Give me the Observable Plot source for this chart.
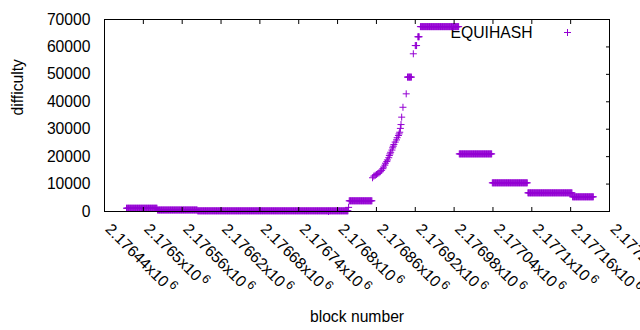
<!DOCTYPE html>
<html><head><meta charset="utf-8">
<script src="https://cdn.jsdelivr.net/npm/d3@7"></script>
<script src="https://cdn.jsdelivr.net/npm/@observablehq/plot@0.6"></script>
<style>
html,body{margin:0;padding:0;background:#fff;}
svg{display:block;}
</style></head><body><div id="chart"></div>
<script>
// Runs of consecutive blocks sharing the same difficulty
const runStart = [2176474, 2176522, 2176584, 2176818, 2176908, 2176920, 2176924, 2176928, 2176988, 2177039, 2177094, 2177163];
const runEnd   = [2176521, 2176583, 2176816, 2176853, 2176914, 2176922, 2176926, 2176987, 2177038, 2177093, 2177162, 2177195];
const runDiff  = [1200, 550, 250, 3900, 49000, 60500, 63700, 67400, 21000, 10450, 6800, 5350];

// Individual blocks (ramp and outliers)
const singleBlock = [2176786, 2176817,
  2176854, 2176856, 2176858, 2176860, 2176862, 2176864, 2176866, 2176868, 2176870, 2176871,
  2176873, 2176874, 2176876, 2176877, 2176879, 2176880, 2176881, 2176882, 2176884, 2176885,
  2176886, 2176887, 2176889, 2176891, 2176892, 2176894, 2176895, 2176896, 2176897, 2176898,
  2176899, 2176901, 2176906, 2176917];
const singleDiff = [0, 1500,
  12300, 12900, 13200, 13500, 13800, 14100, 14500, 15000, 15600, 16200,
  16900, 17600, 18200, 18800, 19600, 20400, 21000, 21600, 22400, 23200,
  23800, 24400, 25300, 26100, 26900, 27700, 28300, 28900, 30300, 31700,
  34400, 38000, 42900, 57500];

const xTickValues = [2176440, 2176500, 2176560, 2176620, 2176680, 2176740, 2176800, 2176860, 2176920, 2176980, 2177040, 2177100, 2177160, 2177220];
const xTickMantissa = ["2.17644", "2.1765", "2.17656", "2.17662", "2.17668", "2.17674", "2.1768", "2.17686", "2.17692", "2.17698", "2.17704", "2.1771", "2.17716", "2.17722"];
const xTickExponent = "6";
const yTickValues = [0, 10000, 20000, 30000, 40000, 50000, 60000, 70000];
const seriesName = "EQUIHASH";
const xLabel = "block number";
const yLabel = "difficulty";

const points = [];
runStart.forEach((s, i) => { for (let b = s; b <= runEnd[i]; b++) points.push({block: b, difficulty: runDiff[i]}); });
singleBlock.forEach((b, i) => points.push({block: b, difficulty: singleDiff[i]}));

const color = "#9400d3";
const plus = {draw(ctx, size) { const r = Math.sqrt(size / Math.PI); ctx.moveTo(-r, 0); ctx.lineTo(r, 0); ctx.moveTo(0, -r); ctx.lineTo(0, r); }};
const FS = 15.7;

const chart = Plot.plot({
  width: 640, height: 330,
  marginLeft: 104, marginRight: 31, marginTop: 19, marginBottom: 119,
  style: {fontFamily: "'Liberation Sans', Arial, sans-serif", fontSize: FS + "px", color: "black", background: "white"},
  x: {domain: [2176440, 2177220], label: null},
  y: {domain: [0, 70000], label: null},
  marks: [
    Plot.text([seriesName], {frameAnchor: "top-right", textAnchor: "end", lineAnchor: "middle", dx: -77, dy: 13, fill: "black"}),
    Plot.dot([seriesName], {frameAnchor: "top-right", dx: -42, dy: 13, symbol: plus, r: 3.5, stroke: color, fill: "none", strokeWidth: 1}),
    Plot.dot(points, {x: "block", y: "difficulty", symbol: plus, r: 3.5, stroke: color, fill: "none", strokeWidth: 1}),
    Plot.axisY({anchor: "left", ticks: yTickValues, tickSize: 0, tickPadding: 14, tickFormat: d => String(d), label: null}),
    Plot.axisY({anchor: "right", ticks: yTickValues, tickSize: 4, dx: -4, tickFormat: () => "", label: null}),
    Plot.axisX({anchor: "bottom", ticks: xTickValues, tickSize: 4, dy: -4, tickFormat: () => "", label: null}),
    Plot.axisX({anchor: "top", ticks: xTickValues, tickSize: 4, dy: 4, tickFormat: () => "", label: null}),
    Plot.text(xTickValues, {x: d => d, text: (d, i) => xTickMantissa[i] + "x10", frameAnchor: "bottom", lineAnchor: "middle", rotate: 45, textAnchor: "start", dx: 3.5, dy: 15, fill: "black"}),
    Plot.text([yLabel], {frameAnchor: "left", lineAnchor: "middle", rotate: -90, dx: -87, fill: "black"}),
    Plot.text([xLabel], {frameAnchor: "bottom", dy: 110, fill: "black"}),
    Plot.frame({stroke: "black", strokeWidth: 1})
  ]
});

d3.select(chart).selectAll("text").each(function() {
  const t = this.textContent;
  if (/^2\.17\d*x10$/.test(t)) {
    d3.select(this).append("tspan").attr("dx", 2.5).attr("dy", -6).attr("font-size", "12.5px").text(xTickExponent);
  }
});

document.getElementById("chart").appendChild(chart);
</script>
</body></html>
